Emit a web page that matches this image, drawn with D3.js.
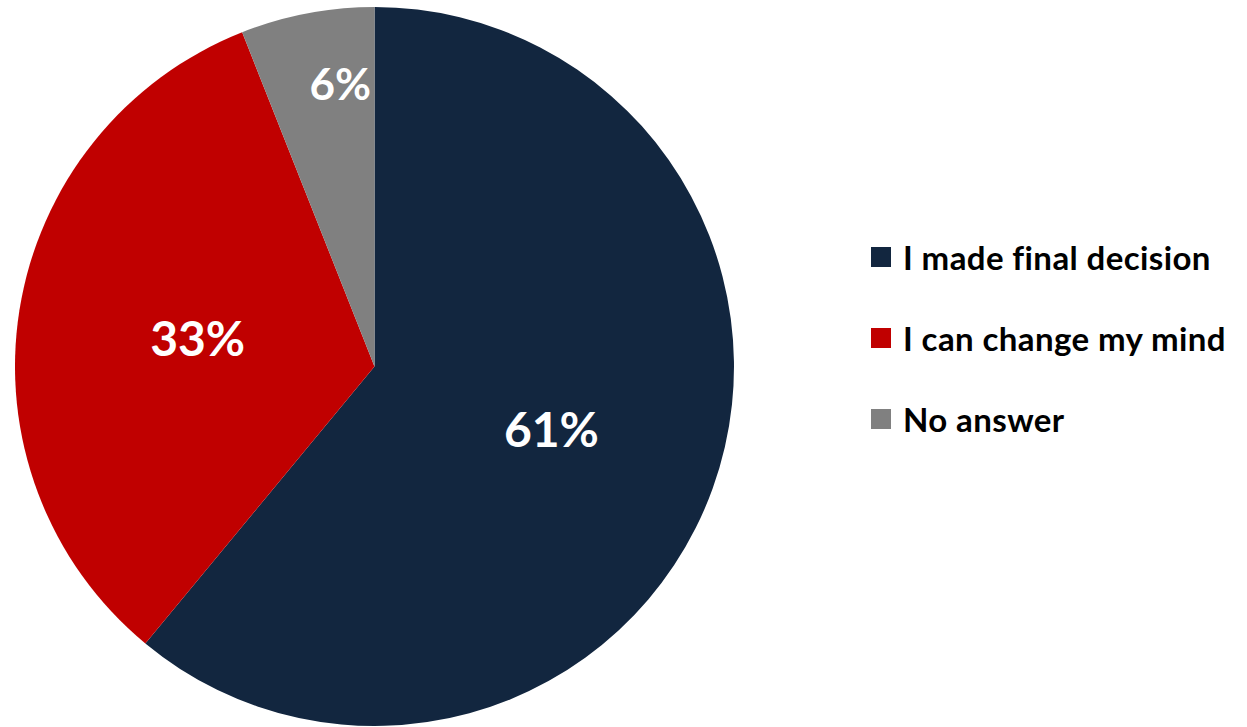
<!DOCTYPE html>
<html>
<head>
<meta charset="utf-8">
<script src="https://cdn.jsdelivr.net/npm/d3@7"></script>
<style>
  html, body { margin: 0; padding: 0; background: #fff; }
  svg { display: block; }
  text { font-family: Lato, "Open Sans", sans-serif; font-weight: 700; }
</style>
</head>
<body>
<svg id="chart" width="1247" height="727"></svg>
<script>
const categories = ["I made final decision", "I can change my mind", "No answer"];
const values = [61, 33, 6];
const labels = ["61%", "33%", "6%"];
const colors = ["#12263F", "#C00000", "#808080"];

const W = 1247, H = 727;
const cx = 374.5, cy = 366.5, R = 359.5;
const svg = d3.select("#chart");

const pie = d3.pie().sort(null).value(d => d)(values);
const arc = d3.arc().innerRadius(0).outerRadius(R);

const g = svg.append("g").attr("transform", `translate(${cx},${cy})`);
g.selectAll("path.slice").data(pie).join("path")
  .attr("class", "slice")
  .attr("d", arc)
  .attr("fill", (d, i) => colors[i]);

// label placement (Excel best-fit style)
const labelR = [0.523, 0.498, 0.79];
const labelNudge = [0, 0, 0.068];
const labelSize = [48, 48, 44];
g.selectAll("text.lab").data(pie).join("text")
  .attr("class", "lab")
  .attr("transform", (d, i) => {
    const a = (d.startAngle + d.endAngle) / 2 + labelNudge[i];
    const r = R * labelR[i];
    return `translate(${r * Math.sin(a)},${-r * Math.cos(a)})`;
  })
  .attr("text-anchor", "middle")
  .attr("dy", "0.36em")
  .attr("fill", "#fff")
  .attr("font-size", (d, i) => labelSize[i])
  .text((d, i) => labels[i]);

// legend
const legY = d3.scalePoint().domain(categories).range([257, 419]);
const leg = svg.append("g");
const items = leg.selectAll("g").data(categories).join("g")
  .attr("transform", d => `translate(871,${legY(d)})`);
items.append("rect").attr("x", 0).attr("y", -10).attr("width", 20).attr("height", 20)
  .attr("fill", (d, i) => colors[i]);
items.append("text").attr("x", 32).attr("y", 13)
  .attr("font-size", 33).attr("letter-spacing", 0.4).attr("fill", "#000")
  .text(d => d);
</script>
</body>
</html>
